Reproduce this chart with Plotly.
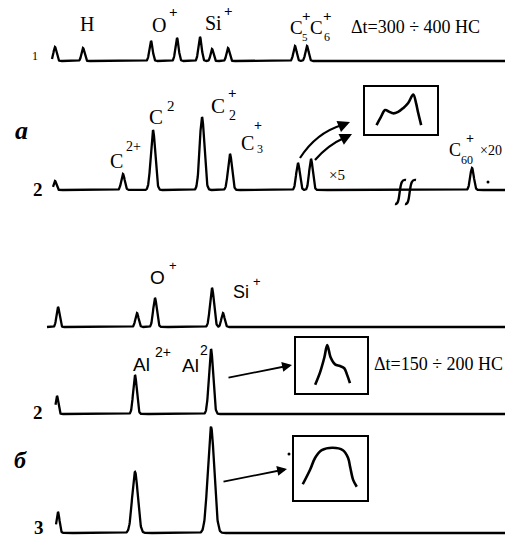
import numpy as np
import plotly.graph_objects as go

W, H = 505, 538
SERIF = "Liberation Serif"
SANS = "Liberation Sans"

# ---------------- data (peak positions in time units, heights in intensity units) -------------
top_pos = [55, 83, 151, 177, 200, 212, 228, 295, 307]
top_hgt = [14, 13, 20, 23, 24, 12, 13, 15, 15]
top_sig = [1.5, 1.5, 1.6, 1.6, 1.6, 1.4, 1.5, 1.6, 1.6]

a_pos = [55, 123, 153, 202, 230, 298, 311, 472]
a_hgt = [9, 16, 60, 73, 36, 27, 31, 22]
a_sig = [1.4, 1.7, 2.2, 2.3, 2.0, 1.8, 1.8, 1.8]

b1_pos = [58, 137, 155, 212, 223]
b1_hgt = [20, 14, 29, 39, 14]
b1_sig = [1.5, 1.6, 1.8, 2.0, 1.6]

b2_pos = [57, 135, 211]
b2_hgt = [18, 39, 65]
b2_sig = [1.3, 1.8, 2.1]

b3_pos = [58, 135, 211]
b3_hgt = [21, 61, 106]
b3_sig = [1.5, 2.8, 3.2]

# inset profiles (relative time, relative intensity)
ins_a_t = [0.16, 0.22, 0.28, 0.34, 0.39, 0.46, 0.53, 0.60, 0.67, 0.71, 0.74, 0.78]
ins_a_v = [0.19, 0.36, 0.51, 0.47, 0.44, 0.47, 0.55, 0.66, 0.84, 0.65, 0.44, 0.19]

ins_b_t = [0.27, 0.34, 0.40, 0.44, 0.49, 0.55, 0.62, 0.68, 0.72, 0.76]
ins_b_v = [0.15, 0.38, 0.65, 0.87, 0.64, 0.52, 0.49, 0.45, 0.33, 0.18]

ins_c_t = [0.12, 0.22, 0.29, 0.38, 0.53, 0.67, 0.74, 0.77, 0.81, 0.86]
ins_c_v = [0.25, 0.48, 0.67, 0.79, 0.83, 0.79, 0.67, 0.52, 0.32, 0.21]

# ---------------- helpers ----------------
def spectrum(pos, hgt, sig, x0, x1=505):
    x = np.arange(x0, x1 + 0.01, 0.25)
    y = np.zeros_like(x)
    for p, h, s in zip(pos, hgt, sig):
        y += h * np.exp(-((x - p) ** 2) / (2 * s * s))
    return x, y

fig = go.Figure()

# (pos, hgt, sig, start, baseline_px, lo, hi)
spectra = [
    (top_pos, top_hgt, top_sig, 52, 61, -4, 40),
    (a_pos, a_hgt, a_sig, 53, 190, -4, 80),
    (b1_pos, b1_hgt, b1_sig, 47, 327, -4, 45),
    (b2_pos, b2_hgt, b2_sig, 55.5, 414, -4, 70),
    (b3_pos, b3_hgt, b3_sig, 56, 533, -4, 110),
]

layout_axes = {}
for i, (pos, hgt, sig, xs, base, lo, hi) in enumerate(spectra):
    k = i + 1
    x, y = spectrum(pos, hgt, sig, xs)
    yname = "y" if k == 1 else f"y{k}"
    fig.add_trace(go.Scatter(x=x, y=y, mode="lines", xaxis="x", yaxis=yname,
                             line=dict(color="black", width=2.3), hoverinfo="skip",
                             showlegend=False))
    d0 = max(0.0, (H - base + lo) / H)
    d1 = min(1.0, (H - base + hi) / H)
    layout_axes["yaxis" if k == 1 else f"yaxis{k}"] = dict(
        domain=[d0, d1], range=[lo, hi], visible=False, anchor="x")

layout_axes["xaxis"] = dict(domain=[0, 1], range=[0, W], visible=False, anchor="y")

# insets
insets = [
    (ins_a_t, ins_a_v, (365, 437, 87, 134)),
    (ins_b_t, ins_b_v, (296, 367, 338, 393)),
    (ins_c_t, ins_c_v, (294, 367, 437, 500)),
]
for j, (t, v, (x0, x1, y0, y1)) in enumerate(insets):
    k = 6 + j
    fig.add_trace(go.Scatter(x=t, y=v, mode="lines", xaxis=f"x{k}", yaxis=f"y{k}",
                             line=dict(color="black", width=2.6, shape="spline", smoothing=1.0),
                             hoverinfo="skip", showlegend=False))
    ax_style = dict(showline=True, mirror=True, linecolor="black", linewidth=1.6,
                    showticklabels=False, ticks="", showgrid=False, zeroline=False,
                    range=[0, 1], fixedrange=True)
    layout_axes[f"xaxis{k}"] = dict(domain=[x0 / W, x1 / W], anchor=f"y{k}", **ax_style)
    layout_axes[f"yaxis{k}"] = dict(domain=[(H - y1) / H, (H - y0) / H], anchor=f"x{k}", **ax_style)

# overlay pixel axes for decorations
layout_axes["xaxis9"] = dict(domain=[0, 1], range=[0, W], visible=False, anchor="y9")
layout_axes["yaxis9"] = dict(domain=[0, 1], range=[H, 0], visible=False, anchor="x9")
fig.add_trace(go.Scatter(x=[289, 488], y=[454, 182], mode="markers", xaxis="x9", yaxis="y9",
                         marker=dict(color="black", size=3), hoverinfo="skip", showlegend=False))

ann = []
def T(x, y, text, size, family=SERIF, xanchor="center"):
    ann.append(dict(x=x, y=y, xref="x9", yref="y9", text=text, showarrow=False,
                    xanchor=xanchor, yanchor="middle",
                    font=dict(family=family, size=size, color="black")))

# top spectrum labels
T(35, 56, "1", 12)
T(87, 24, "H", 20)
T(159, 25, "O", 20); T(173, 12, "<b>+</b>", 15)
T(213, 23, "Si", 20); T(228, 11, "<b>+</b>", 15)
T(296, 27, "C", 19); T(306, 16, "<b>+</b>", 15); T(305, 37, "5", 11)
T(316, 27, "C", 19); T(327, 16, "<b>+</b>", 15); T(327, 37, "6", 12)
T(349, 27, "\u0394t=300 \u00f7 400 HC", 18, xanchor="left")

# spectrum a labels
T(21, 130, "<b><i>a</i></b>", 26)
T(38, 189, "<b>2</b>", 19)
T(116, 161, "C", 20); T(133, 146, "2+", 14)
T(156, 117, "C", 21); T(171, 106, "2", 15)
T(218, 106, "C", 21); T(232, 93, "<b>+</b>", 15); T(232, 115, "2", 14)
T(247, 143, "C", 20); T(258, 125, "<b>+</b>", 14); T(260, 149, "3", 12)
T(337, 175, "\u00d75", 15)
T(455, 150, "C", 18); T(470, 138, "<b>+</b>", 14); T(467, 160, "60", 12)
T(504, 150, "\u00d720", 14, xanchor="right")

# lower group labels
T(157, 277, "O", 19, SANS); T(173, 265, "+", 13, SANS)
T(241, 292, "Si", 18, SANS); T(257, 281, "+", 13, SANS)
T(141, 364, "Al", 19, SANS); T(163, 352, "2+", 14, SANS)
T(190, 365, "Al", 19, SANS); T(204, 350, "2", 14, SANS)
T(372, 364, "\u0394t=150 \u00f7 200 HC", 18, xanchor="left")
T(38, 412, "<b>2</b>", 19)
T(20, 460, "<b><i>\u0431</i></b>", 24)
T(39, 527, "<b>3</b>", 19)

# arrows
def A(x, y, ax, ay, w=1.8):
    ann.append(dict(x=x, y=y, ax=ax, ay=ay, xref="x9", yref="y9", axref="x9", ayref="y9",
                    text="", showarrow=True, arrowhead=2, arrowsize=1.1, arrowwidth=w,
                    arrowcolor="black", standoff=0, startstandoff=0))

A(292, 365, 227, 378)
A(287, 469, 222, 482)
A(350, 122, 340, 126, 2.2)
A(352, 134, 342, 139, 2.2)

shapes = [
    dict(type="path", xref="x9", yref="y9", path="M300,158 Q316,133 342,125",
         line=dict(color="black", width=2.2)),
    dict(type="path", xref="x9", yref="y9", path="M315,160 Q328,145 344,138",
         line=dict(color="black", width=2.2)),
    # break marks on spectrum a
    dict(type="path", xref="x9", yref="y9",
         path="M395,204 C399,205 399,195 400,190 C401,183 402,179 406,180",
         line=dict(color="black", width=2.4)),
    dict(type="path", xref="x9", yref="y9",
         path="M405,204 C409,205 409,195 410,190 C411,183 412,179 416,180",
         line=dict(color="black", width=2.4)),
]

fig.update_layout(width=W, height=H, margin=dict(l=0, r=0, t=0, b=0),
                  paper_bgcolor="white", plot_bgcolor="rgba(0,0,0,0)",
                  showlegend=False, hovermode=False, annotations=ann, shapes=shapes,
                  **layout_axes)

fig.write_html("out.html", config={"displayModeBar": False, "staticPlot": True},
               post_script="document.body.style.margin='0';")
